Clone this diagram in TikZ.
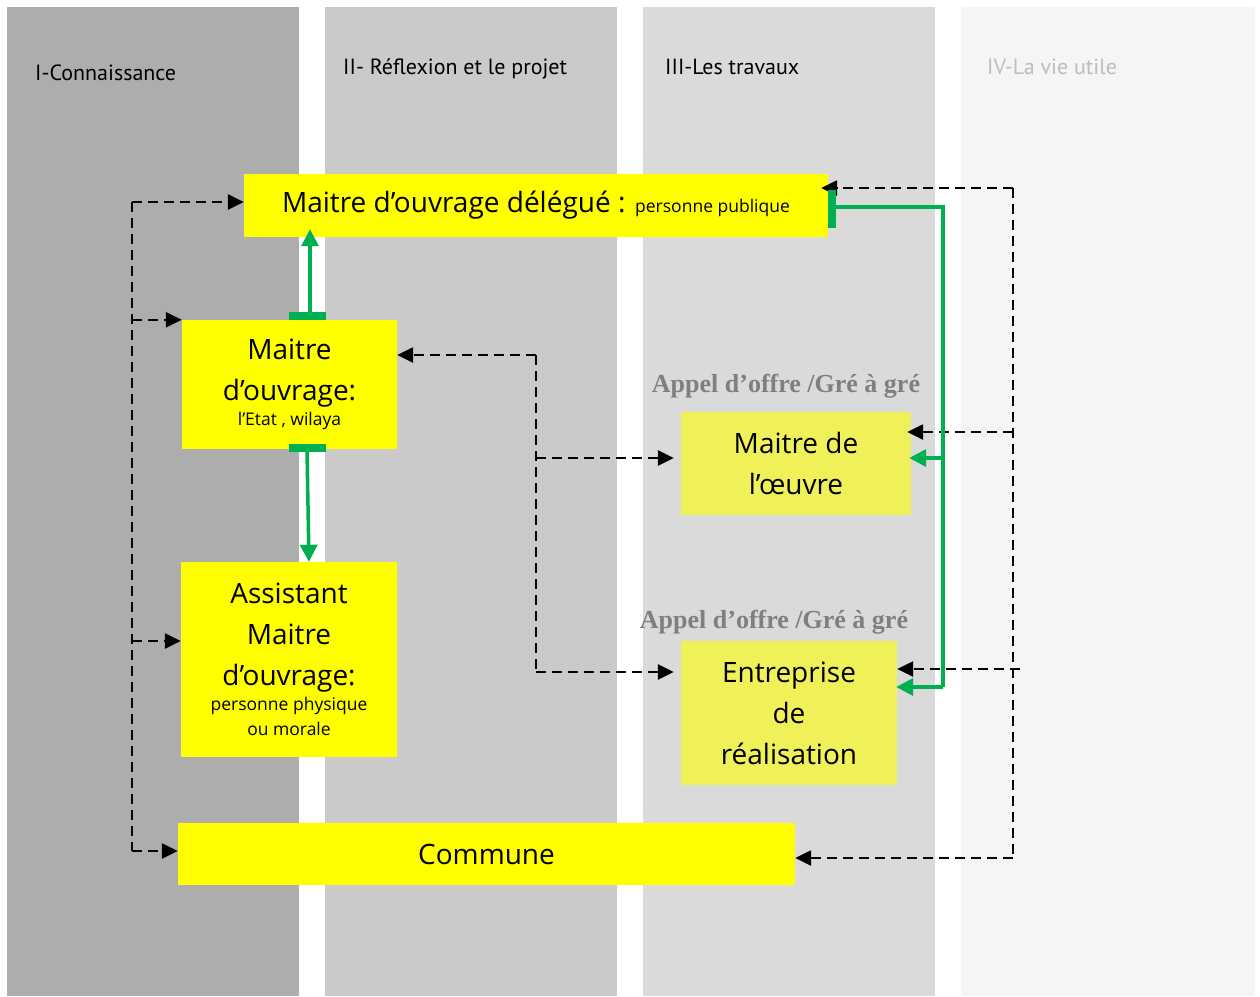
\documentclass[tikz,border=0pt]{standalone}
\usepackage{fontspec}
\setmainfont{Open Sans}
\newfontfamily\hdfont{PT Sans}
\newfontfamily\lblfont{Liberation Serif}
\usetikzlibrary{arrows.meta}

\definecolor{phaseA}{HTML}{ADADAD}
\definecolor{phaseB}{HTML}{CACACA}
\definecolor{phaseC}{HTML}{DADADA}
\definecolor{phaseD}{HTML}{F5F5F5}
\definecolor{actor}{HTML}{FFFF00}
\definecolor{provider}{HTML}{F0F058}
\definecolor{flowgreen}{HTML}{00B050}
\definecolor{labelgray}{HTML}{7F7F7F}
\definecolor{fadedhead}{HTML}{BDBDBD}

\newcommand\bigtxt{\fontsize{28}{41}\selectfont}
\newcommand\smtxt{\fontsize{17.5}{25}\selectfont}

\tikzset{
  actorbox/.style={fill=actor, draw=none, inner sep=0pt, align=flush center, font=\bigtxt},
  providerbox/.style={fill=provider, draw=none, inner sep=0pt, align=flush center, font=\bigtxt},
  phasehead/.style={anchor=base west, inner sep=0pt, font=\hdfont\fontsize{22}{26}\selectfont},
  tender/.style={inner sep=0pt, text=labelgray, font=\lblfont\bfseries\fontsize{26}{30}\selectfont},
  dashlink/.style={draw=black, line width=2.5pt, dash pattern=on 10pt off 6pt},
  dasharrow/.style={dashlink, -{Triangle[length=16pt 0 0,width=15pt 0 0]}},
  greenlink/.style={draw=flowgreen, line width=3.5pt},
  greenarrow/.style={greenlink, -{Triangle[length=17pt 0 0,width=17pt 0 0]}},
}

\begin{document}
\begin{tikzpicture}[x=1pt,y=-1pt]
\useasboundingbox (0,0) rectangle (1260,996);
\fill[white] (0,0) rectangle (1260,996);

% the four phase columns
\fill[phaseA] (7,7) rectangle (299,996);
\fill[phaseB] (325,7) rectangle (617,996);
\fill[phaseC] (643,7) rectangle (935,996);
\fill[phaseD] (961,7) rectangle (1255,996);

% phase titles
\node[phasehead] (h1) at (35,80) {I-Connaissance};
\node[phasehead] (h2) at (343,74) {II- Réflexion et le projet};
\node[phasehead] (h3) at (665,74) {III-Les travaux};
\node[phasehead, text=fadedhead] (h4) at (987,74) {IV-La vie utile};

% actors
\node[actorbox, minimum width=584pt, minimum height=63pt] (mod) at (536,205.5)
  {Maitre d’ouvrage délégué : {\smtxt personne publique}};
\node[actorbox, text width=215pt, minimum height=129pt] (mo) at (289.5,384.5)
  {{\bigtxt Maitre\par d’ouvrage:\par}{\smtxt l’Etat , wilaya\par}};
\node[actorbox, text width=216pt, minimum height=195pt] (amo) at (289,659.5)
  {{\bigtxt Assistant\par Maitre\par d’ouvrage:\par}{\smtxt personne physique\par ou morale\par}};
\node[providerbox, text width=230pt, minimum height=103pt] (moe) at (796,463.5)
  {{\bigtxt Maitre de\par l’œuvre\par}};
\node[providerbox, text width=216pt, minimum height=144pt] (er) at (789,713)
  {{\bigtxt Entreprise\par de\par réalisation\par}};
\node[actorbox, minimum width=617pt, minimum height=62pt] (commune) at (486.5,854) {Commune};

% procurement labels
\node[tender] (t1) at (786,386) {Appel d’offre /Gré à gré};
\node[tender] (t2) at (774,622) {Appel d’offre /Gré à gré};

% left dashed spine
\coordinate (ltop) at (132,202);
\coordinate (lbot) at (132,851);
\draw[dashlink] (ltop) -- (lbot);
\draw[dasharrow] (ltop) -- (ltop -| mod.west);
\draw[dasharrow] (ltop |- mo.north west) -- (mo.north west);
\draw[dasharrow] (132,641) -- (amo.west |- 0,641);
\draw[dasharrow] (lbot) -- (lbot -| commune.west);

% middle dashed spine
\coordinate (mtop) at (536,355);
\coordinate (mbot) at (536,672);
\draw[dashlink] (mtop) -- (mbot);
\draw[dasharrow] (mtop) -- (mtop -| mo.east);
\draw[dasharrow, shorten >=7pt] (536,458) -- (moe.west |- 0,458);
\draw[dasharrow, shorten >=7pt] (mbot) -- (mbot -| er.west);

% right dashed spine
\coordinate (rtop) at (1013,188);
\coordinate (rbot) at (1013,858);
\draw[dashlink] (rtop) -- (rbot);
\draw[dasharrow, shorten >=-7pt] (rtop) -- (rtop -| mod.east);
\draw[dasharrow, shorten >=-4pt] (1013,432) -- (moe.east |- 0,432);
\draw[dasharrow] (1020,669) -- (er.east |- 0,669);
\draw[dasharrow] (rbot) -- (rbot -| commune.east);

% green delegation links
\fill[flowgreen] (289,312) rectangle (326,320);
\draw[greenarrow, shorten >=-8pt] (310,316) -- (mod.south -| 310,0);
\fill[flowgreen] (289,444) rectangle (326,452);
\draw[greenarrow] (307,450) -- (amo.north -| 309,0);
\fill[flowgreen] (828,190) rectangle (836,228);
\coordinate (gtop) at (943,207);
\coordinate (gmid) at (943,458);
\coordinate (gbot) at (943,687);
\draw[greenlink, line join=miter] (834,207) -- (gtop) -- (gbot);
\draw[greenarrow, shorten >=-1pt] (gbot) -- (gbot -| er.east);
\draw[greenarrow, shorten >=-2pt] (gmid) -- (gmid -| moe.east);
\end{tikzpicture}
\end{document}
